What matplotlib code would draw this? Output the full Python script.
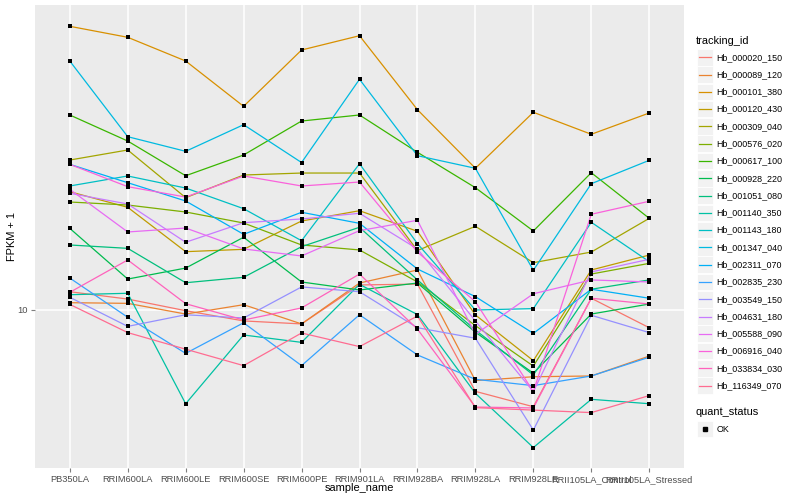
import matplotlib
matplotlib.use('Agg')
import matplotlib.pyplot as plt
from matplotlib.lines import Line2D
from matplotlib.patches import Rectangle
from matplotlib.ticker import NullLocator

plt.rcParams['font.family'] = ['Liberation Sans', 'DejaVu Sans']

samples = ['PB350LA', 'RRIM600LA', 'RRIM600LE', 'RRIM600SE', 'RRIM600PE',
           'RRIM901LA', 'RRIM928BA', 'RRIM928LA', 'RRIM928LE',
           'RRII105LA_Control', 'RRII105LA_Stressed']

tracking_ids = ['Hb_000020_150', 'Hb_000089_120', 'Hb_000101_380', 'Hb_000120_430',
                'Hb_000309_040', 'Hb_000576_020', 'Hb_000617_100', 'Hb_000928_220',
                'Hb_001051_080', 'Hb_001140_350', 'Hb_001143_180', 'Hb_001347_040',
                'Hb_002311_070', 'Hb_002835_230', 'Hb_003549_150', 'Hb_004631_180',
                'Hb_005588_090', 'Hb_006916_040', 'Hb_033834_030', 'Hb_116349_070']

colors = ['#F8766D', '#EA8331', '#D89000', '#C09B00', '#A3A500', '#7CAE00',
          '#39B600', '#00BB4E', '#00BF7D', '#00C1A3', '#00BFC4', '#00BAE0',
          '#00B0F6', '#35A2FF', '#9590FF', '#C77CFF', '#E76BF3', '#FA62DB',
          '#FF62BC', '#FF6C91']

# FPKM + 1 per sample (in sample order)
hb_000020_150 = [11.11, 10.65, 9.96, 9.39, 9.23, 11.55, 11.61, 6.26, 5.73, 10.70, 9.03]
hb_000089_120 = [10.43, 10.39, 9.77, 10.31, 9.23, 11.68, 12.59, 6.66, 6.81, 6.84, 7.67]
hb_000101_380 = [51.20, 48.06, 41.93, 32.30, 44.67, 48.50, 31.68, 22.61, 31.21, 27.50, 31.08]
hb_000120_430 = [19.76, 18.06, 13.99, 14.18, 16.69, 17.71, 15.73, 9.72, 7.47, 12.59, 13.72]
hb_000309_040 = [23.71, 25.12, 19.09, 21.75, 22.00, 22.00, 14.08, 16.19, 13.13, 13.96, 16.95]
hb_000576_020 = [18.62, 18.30, 17.58, 16.50, 14.54, 14.13, 11.75, 9.14, 7.24, 12.30, 13.08]
hb_000617_100 = [30.73, 26.45, 21.66, 24.41, 29.68, 30.73, 24.79, 20.22, 15.76, 22.04, 16.95]
hb_000928_220 = [16.00, 11.95, 12.73, 15.20, 11.75, 11.22, 11.68, 8.80, 6.95, 9.77, 10.35]
hb_001051_080 = [14.54, 14.26, 11.70, 12.07, 14.40, 16.10, 11.89, 8.91, 6.88, 11.27, 11.89]
hb_001140_350 = [10.92, 11.01, 5.83, 8.66, 8.30, 11.59, 9.74, 6.19, 4.53, 5.98, 5.83]
hb_001143_180 = [20.42, 21.63, 20.18, 17.92, 14.90, 23.21, 14.65, 10.00, 10.08, 16.57, 13.21]
hb_001347_040 = [41.93, 27.12, 24.93, 29.06, 23.37, 37.74, 24.31, 22.61, 12.57, 20.69, 23.67]
hb_002311_070 = [23.13, 20.81, 18.73, 15.46, 17.55, 16.47, 12.66, 10.80, 8.74, 11.27, 10.70]
hb_002835_230 = [12.02, 9.59, 7.79, 9.29, 7.26, 9.73, 7.72, 6.71, 6.47, 6.84, 7.62]
hb_003549_150 = [10.76, 9.10, 9.73, 9.55, 11.42, 11.11, 9.03, 8.50, 5.01, 9.70, 8.78]
hb_004631_180 = [19.58, 18.41, 14.77, 16.53, 16.89, 17.45, 14.21, 9.39, 6.25, 12.45, 13.39]
hb_005588_090 = [20.03, 15.67, 16.03, 14.21, 13.65, 15.79, 16.76, 8.69, 10.98, 11.89, 11.75]
hb_006916_040 = [23.13, 20.34, 19.16, 21.63, 20.42, 20.89, 13.96, 10.49, 6.25, 17.35, 18.70]
hb_033834_030 = [11.07, 13.34, 10.37, 9.44, 10.12, 12.30, 8.96, 5.72, 5.69, 10.70, 10.35]
hb_116349_070 = [10.33, 8.78, 7.98, 7.26, 8.76, 8.10, 9.66, 5.70, 5.62, 5.54, 6.11]

series = [hb_000020_150, hb_000089_120, hb_000101_380, hb_000120_430, hb_000309_040,
          hb_000576_020, hb_000617_100, hb_000928_220, hb_001051_080, hb_001140_350,
          hb_001143_180, hb_001347_040, hb_002311_070, hb_002835_230, hb_003549_150,
          hb_004631_180, hb_005588_090, hb_006916_040, hb_033834_030, hb_116349_070]

W, H = 800, 500
fig = plt.figure(figsize=(8, 5), dpi=100)
ax = fig.add_axes([35 / W, 32 / H, 649 / W, 463 / H])
ax.set_facecolor('#EBEBEB')
for s in ax.spines.values():
    s.set_visible(False)

x = list(range(len(samples)))
for vals, c in zip(series, colors):
    ax.plot(x, vals, color=c, lw=0.9, zorder=3)
for vals in series:
    ax.scatter(x, vals, marker='s', s=8, color='black', linewidths=0, zorder=4)

ax.set_yscale('log')
ax.set_ylim(4.027, 57.88)
ax.set_yticks([10])
ax.set_yticklabels(['10'])
ax.yaxis.set_minor_locator(NullLocator())
ax.set_xlim(-0.6, len(samples) - 0.4)
ax.set_xticks(x)
ax.set_xticklabels(samples)
ax.grid(True, color='white', lw=1.1, zorder=0)
ax.set_axisbelow(True)
ax.tick_params(axis='both', colors='#7F7F7F', labelcolor='#4D4D4D',
               labelsize=6.7, length=3, width=0.8, pad=2)
ax.set_xlabel('sample_name', fontsize=7.9)
ax.set_ylabel('FPKM + 1', fontsize=7.9)
ax.xaxis.set_label_coords(0.5, -0.043)
ax.yaxis.set_label_coords(-0.0354, 0.5)
ax.xaxis.label.set_va('center')
ax.yaxis.label.set_va('center')


def fx(px):
    return px / W


def fy(py):
    return 1 - py / H


# legend: tracking_id
fig.text(fx(696), fy(40.5), 'tracking_id', fontsize=7.9, va='center', ha='left')
for i, (tid, c) in enumerate(zip(tracking_ids, colors)):
    yc = 57.3 + 17.28 * i
    fig.add_artist(Rectangle((fx(696.5), fy(yc + 8.3)), 16.5 / W, 16.6 / H,
                             transform=fig.transFigure, facecolor='#F2F2F2',
                             edgecolor='white', lw=0.6))
    fig.add_artist(Line2D([fx(698.5), fx(711)], [fy(yc), fy(yc)],
                          transform=fig.transFigure, color=c, lw=0.9))
    fig.text(fx(716.5), fy(yc), tid, fontsize=6.4, va='center', ha='left')

# legend: quant_status
fig.text(fx(696), fy(412.3), 'quant_status', fontsize=7.9, va='center', ha='left')
yc = 429
fig.add_artist(Rectangle((fx(696.5), fy(yc + 8.3)), 16.5 / W, 16.6 / H,
                         transform=fig.transFigure, facecolor='#F2F2F2',
                         edgecolor='white', lw=0.6))
fig.add_artist(Line2D([fx(704.7)], [fy(yc)], transform=fig.transFigure,
                      marker='s', markersize=2.8, color='black', lw=0))
fig.text(fx(716.5), fy(yc), 'OK', fontsize=6.4, va='center', ha='left')

fig.savefig('out.png', dpi=100)
